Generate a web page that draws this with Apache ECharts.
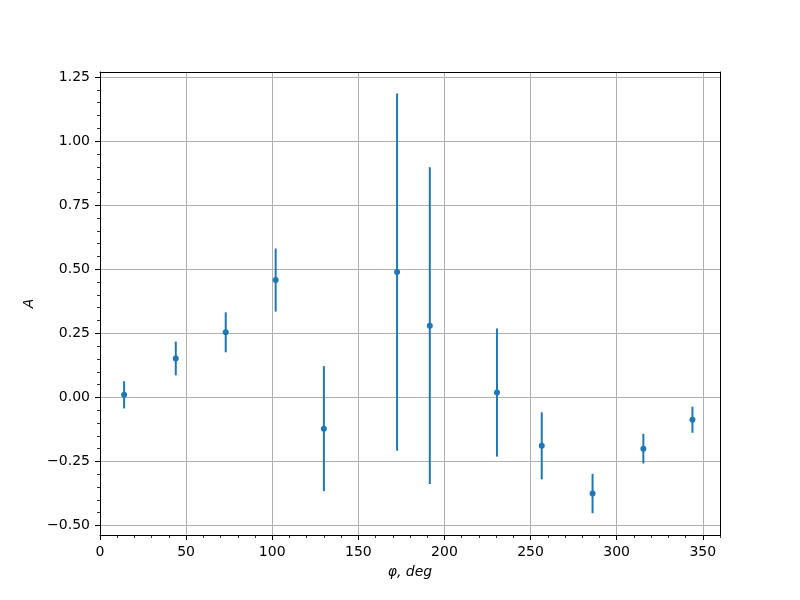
<!DOCTYPE html>
<html>
<head>
<meta charset="utf-8">
<script src="https://cdn.jsdelivr.net/npm/echarts@6/dist/echarts.min.js"></script>
<style>html,body{margin:0;padding:0;background:#fff;}#c{width:800px;height:600px;}</style>
</head>
<body>
<div id="c"></div>
<script>
const phi = [14, 44, 73, 102, 130, 172.5, 191.5, 230.5, 256.5, 286, 315.5, 344];
const A = [0.010, 0.152, 0.254, 0.458, -0.122, 0.489, 0.280, 0.019, -0.189, -0.375, -0.200, -0.087];
const err = [0.053, 0.066, 0.078, 0.123, 0.244, 0.697, 0.618, 0.250, 0.131, 0.077, 0.058, 0.051];

const xTicks = [0, 50, 100, 150, 200, 250, 300, 350];
const xMinorTicks = [10, 20, 30, 40, 60, 70, 80, 90, 110, 120, 130, 140, 160, 170, 180, 190,
  210, 220, 230, 240, 260, 270, 280, 290, 310, 320, 330, 340, 360];
const yTicks = [-0.50, -0.25, 0.00, 0.25, 0.50, 0.75, 1.00, 1.25];
const yMinorTicks = [-0.45, -0.40, -0.35, -0.30, -0.20, -0.15, -0.10, -0.05, 0.05, 0.10, 0.15, 0.20,
  0.30, 0.35, 0.40, 0.45, 0.55, 0.60, 0.65, 0.70, 0.80, 0.85, 0.90, 0.95, 1.05, 1.10, 1.15, 1.20];

const xMin = 0, xMax = 360;
const yMin = -0.537, yMax = 1.27;

const blue = '#1f77b4';
const font = 'DejaVu Sans';
const fmtY = v => (v < -1e-9 ? '\u2212' : '') + Math.abs(v).toFixed(2);

const pts = phi.map((p, i) => [p, A[i], err[i]]);

const spine = {show: true, onZero: false, lineStyle: {color: '#000', width: 1}};
const noLine = {show: false, onZero: false};

const chart = echarts.init(document.getElementById('c'), null, {renderer: 'canvas'});
chart.setOption({
  animation: false,
  backgroundColor: '#fff',
  grid: {left: 100, right: 80, top: 72, bottom: 65, containLabel: false},
  xAxis: [{
    type: 'value', min: xMin, max: xMax, position: 'bottom',
    name: '\u03c6, deg', nameLocation: 'middle', nameGap: 30,
    nameTextStyle: {fontFamily: font, fontSize: 14, fontStyle: 'italic', color: '#000'},
    axisLine: spine,
    axisTick: {show: true, length: 5, customValues: xTicks, lineStyle: {color: '#000', width: 1}},
    axisLabel: {fontFamily: font, fontSize: 14, color: '#000', margin: 10, customValues: xTicks},
    splitLine: {show: true, lineStyle: {color: '#b0b0b0', width: 1}}
  }, {
    type: 'value', position: 'top', min: xMin, max: xMax,
    axisLine: spine,
    axisTick: {show: false}, axisLabel: {show: false}, splitLine: {show: false}
  }, {
    type: 'value', position: 'bottom', min: xMin, max: xMax,
    axisLine: noLine,
    axisTick: {show: true, length: 3, customValues: xMinorTicks, lineStyle: {color: '#000', width: 0.8}},
    axisLabel: {show: false, customValues: xMinorTicks}, splitLine: {show: false}
  }],
  yAxis: [{
    type: 'value', min: yMin, max: yMax, position: 'left',
    name: 'A', nameLocation: 'middle', nameGap: 57, nameRotate: 90,
    nameTextStyle: {fontFamily: font, fontSize: 14, fontStyle: 'italic', color: '#000'},
    axisLine: spine,
    axisTick: {show: true, length: 5, customValues: yTicks, lineStyle: {color: '#000', width: 1}},
    axisLabel: {fontFamily: font, fontSize: 14, color: '#000', margin: 10, customValues: yTicks, formatter: fmtY},
    splitLine: {show: true, lineStyle: {color: '#b0b0b0', width: 1}}
  }, {
    type: 'value', position: 'right', min: yMin, max: yMax,
    axisLine: spine,
    axisTick: {show: false}, axisLabel: {show: false}, splitLine: {show: false}
  }, {
    type: 'value', position: 'left', min: yMin, max: yMax,
    axisLine: noLine,
    axisTick: {show: true, length: 3, customValues: yMinorTicks, lineStyle: {color: '#000', width: 0.8}},
    axisLabel: {show: false, customValues: yMinorTicks}, splitLine: {show: false}
  }],
  series: [{
    type: 'custom',
    xAxisIndex: 0, yAxisIndex: 0,
    data: pts,
    renderItem: function (params, api) {
      const x = api.value(0), y = api.value(1), e = api.value(2);
      const p1 = api.coord([x, y - e]);
      const p2 = api.coord([x, y + e]);
      return {
        type: 'line',
        shape: {x1: p1[0], y1: p1[1], x2: p2[0], y2: p2[1]},
        style: {stroke: blue, lineWidth: 2}
      };
    },
    z: 3
  }, {
    type: 'scatter',
    xAxisIndex: 0, yAxisIndex: 0,
    data: pts.map(p => [p[0], p[1]]),
    symbol: 'circle', symbolSize: 6,
    itemStyle: {color: blue, opacity: 1},
    z: 4
  }]
});
</script>
</body>
</html>
